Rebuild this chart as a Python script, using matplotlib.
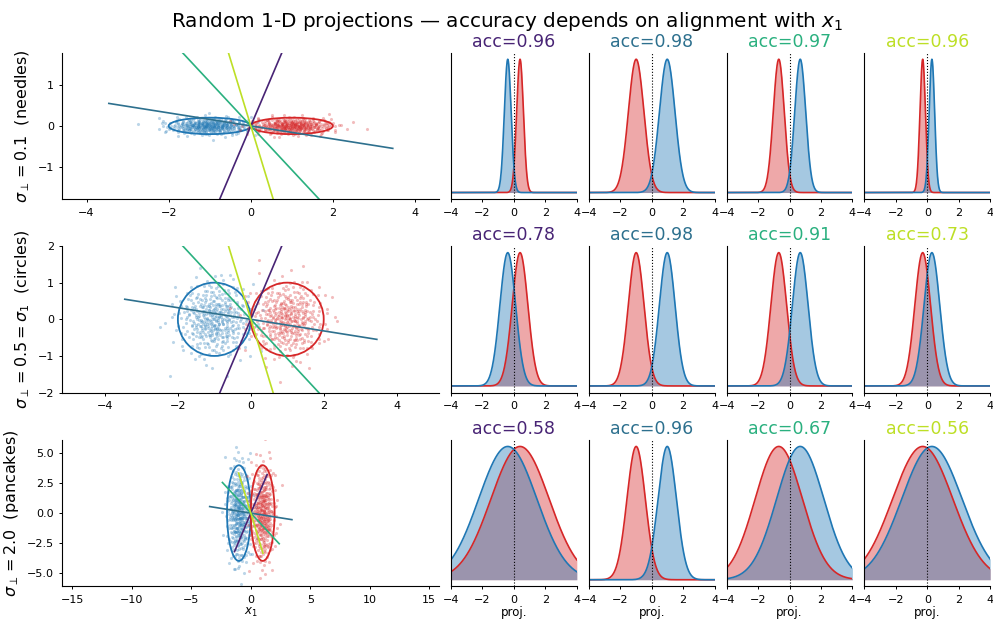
import numpy as np
import matplotlib.pyplot as plt
from matplotlib.patches import Ellipse
from matplotlib.ticker import MultipleLocator

plt.rcParams['xtick.labelsize'] = 8
plt.rcParams['ytick.labelsize'] = 8
plt.rcParams['xtick.major.size'] = 2.5
plt.rcParams['ytick.major.size'] = 2.5
plt.rcParams['xtick.major.width'] = 0.7
plt.rcParams['ytick.major.width'] = 0.7
plt.rcParams['axes.linewidth'] = 0.8

# class means sit at x1 = -1 (blue) and x1 = +1 (red), sigma along x1 is fixed
sigma_1 = 0.5
class_x1 = [-1.0, 1.0]
class_colors = ['tab:blue', 'tab:red']

# one row per perpendicular spread
sigma_perp = [0.1, 0.5, 2.0]
row_labels = [r'$\sigma_\perp = 0.1$  (needles)',
              r'$\sigma_\perp = 0.5 = \sigma_1$  (circles)',
              r'$\sigma_\perp = 2.0$  (pancakes)']
# axis limits of the scatter panels (equal aspect in the original)
scatter_xlim = [4.59, 5.17, 15.85]
scatter_ylim = [1.785, 2.0, 6.13]
scatter_xstep = [2, 2, 5]
scatter_ystep = [1, 1, 2.5]

# the four projection directions (angle of w, degrees) and their accuracies per row
dir_angles = [67, 171, 133, 107]
dir_colors = plt.cm.viridis(np.linspace(0.1, 0.9, 4))
acc = [[0.96, 0.98, 0.97, 0.96],
       [0.78, 0.98, 0.91, 0.73],
       [0.58, 0.96, 0.67, 0.56]]
line_half_len = 3.5
n_points = 400


def halton(n, base, start=1):
    # deterministic low-discrepancy sequence, used instead of random draws
    out = np.zeros(n)
    for k in range(n):
        i = k + start
        f, r = 1.0, 0.0
        while i > 0:
            f /= base
            r += f * (i % base)
            i //= base
        out[k] = r
    return out


def normal_cloud(n, start):
    u1 = halton(n, 2, start)
    u2 = halton(n, 3, start)
    rad = np.sqrt(-2 * np.log(u1))
    return rad * np.cos(2 * np.pi * u2), rad * np.sin(2 * np.pi * u2)


def gauss(x, m, s):
    return np.exp(-0.5 * ((x - m) / s) ** 2) / (s * np.sqrt(2 * np.pi))


fig = plt.figure(figsize=(9.93, 6.21), dpi=100)
W, H = 993.0, 621.0
row_tops = [52.6, 246.0, 439.8]
ax_h = 146.6
col_lefts = [451.0, 588.8, 726.6, 864.4]
col_w = 125.8

xs = np.linspace(-4, 4, 400)

for r, sp in enumerate(sigma_perp):
    bottom = 1 - (row_tops[r] + ax_h) / H
    ax = fig.add_axes([62.3 / W, bottom, 377.0 / W, ax_h / H])
    for c, (mx, col) in enumerate(zip(class_x1, class_colors)):
        zx, zy = normal_cloud(n_points, 1 + (2 * r + c) * n_points)
        ax.scatter(mx + sigma_1 * zx, sp * zy, s=5, color=col, alpha=0.3, lw=0)
        ax.add_patch(Ellipse((mx, 0), 4 * sigma_1, 4 * sp, fill=False,
                             edgecolor=col, lw=1.3))
    for k, ang in enumerate(dir_angles):
        w = np.array([np.cos(np.radians(ang)), np.sin(np.radians(ang))])
        ax.plot([-line_half_len * w[0], line_half_len * w[0]],
                [-line_half_len * w[1], line_half_len * w[1]],
                color=dir_colors[k], lw=1.2)
    ax.set_xlim(-scatter_xlim[r], scatter_xlim[r])
    ax.set_ylim(-scatter_ylim[r], scatter_ylim[r])
    ax.xaxis.set_major_locator(MultipleLocator(scatter_xstep[r]))
    ax.yaxis.set_major_locator(MultipleLocator(scatter_ystep[r]))
    ax.set_ylabel(row_labels[r], fontsize=11.5)
    ax.spines['top'].set_visible(False)
    ax.spines['right'].set_visible(False)
    if r == 2:
        ax.set_xlabel('$x_1$', fontsize=8.5, labelpad=1)

    for k, ang in enumerate(dir_angles):
        a = fig.add_axes([col_lefts[k] / W, bottom, col_w / W, ax_h / H])
        cth, sth = np.cos(np.radians(ang)), np.sin(np.radians(ang))
        s_proj = np.sqrt((sigma_1 * cth) ** 2 + (sp * sth) ** 2)
        # red first, blue on top
        for mx, col in [(class_x1[1], 'tab:red'), (class_x1[0], 'tab:blue')]:
            d = gauss(xs, mx * cth, s_proj)
            a.fill_between(xs, d, color=col, alpha=0.4, lw=0)
            a.plot(xs, d, color=col, lw=1.2)
        a.axvline(0, color='k', ls=':', lw=0.8)
        a.set_xlim(-4, 4)
        a.set_xticks([-4, -2, 0, 2, 4])
        a.set_yticks([])
        a.set_title(f'acc={acc[r][k]:.2f}', color=dir_colors[k], fontsize=12.5, pad=4)
        a.spines['top'].set_visible(False)
        a.spines['right'].set_visible(False)
        if r == 2:
            a.set_xlabel('proj.', fontsize=8.5, labelpad=1)

fig.text(0.511, 1 - 27 / H, r'Random 1-D projections — accuracy depends on alignment with $x_1$',
         ha='center', va='baseline', fontsize=14.4)

fig.savefig('out.png', dpi=100)
